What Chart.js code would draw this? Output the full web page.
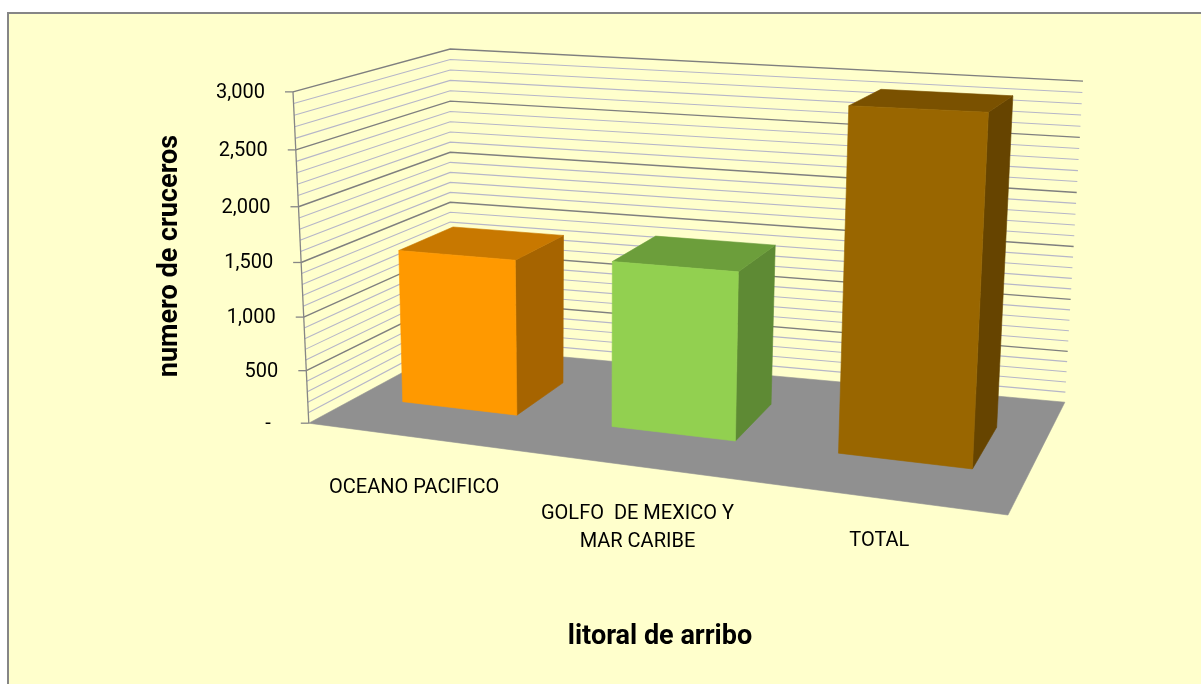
<!DOCTYPE html>
<html>
<head>
<meta charset="utf-8">
<script src="https://cdn.jsdelivr.net/npm/chart.js@4.4.0/dist/chart.umd.min.js"></script>
<style>
  html, body { margin: 0; padding: 0; background: #fff; }
  #wrap { width: 1201px; height: 684px; }
</style>
</head>
<body>
<div id="wrap"><canvas id="cruceroChart"></canvas></div>
<script>
const categories = [['OCEANO PACIFICO'], ['GOLFO  DE MEXICO Y', 'MAR CARIBE'], ['TOTAL']];
const cruceros = [1450, 1510, 2950];
const yTicks = [0, 500, 1000, 1500, 2000, 2500, 3000];
const yTickLabels = ['-  ', '500', '1,000', '1,500', '2,000', '2,500', '3,000'];
const minorStep = 100;

const frontColors = ['#FF9900', '#92D050', '#996600'];
const topColors = ['#C87800', '#6C9E3B', '#7A5100'];
const sideColors = ['#A66400', '#5E8A34', '#664400'];

// corners of the 3d box, as fractions of the chart area
// key = u (categories) v (value) w (depth), 0 = front / bottom / left
const corners = {
    '000': [0.020, 0.803], '010': [0.000, 0.092],
    '001': [0.199, 0.639], '011': [0.199, 0.000],
    '100': [0.905, 1.000], '110': [0.929, 0.159],
    '101': [0.977, 0.758], '111': [1.000, 0.069]
};
const barDepth = [0.35, 0.73];

function project(area, u, v, w) {
    u = 0.887 * u / (1 - 0.113 * u); // perspective, right side is closer
    v = 0.942 * v / (1 - 0.058 * v);
    let x = 0, y = 0;
    for (const key in corners) {
        const [a, b, c] = key.split('').map(Number);
        const f = (a ? u : 1 - u) * (b ? v : 1 - v) * (c ? w : 1 - w);
        x += f * corners[key][0];
        y += f * corners[key][1];
    }
    return [area.left + x * area.width, area.top + y * area.height];
}

function fillFace(ctx, pts, color) {
    ctx.beginPath();
    ctx.moveTo(pts[0][0], pts[0][1]);
    for (let i = 1; i < pts.length; i++) ctx.lineTo(pts[i][0], pts[i][1]);
    ctx.closePath();
    ctx.fillStyle = color;
    ctx.strokeStyle = color;
    ctx.lineWidth = 0.6;
    ctx.fill();
    ctx.stroke();
}

const scene3d = {
    id: 'scene3d',
    beforeDraw(chart) {
        const ctx = chart.ctx, w = chart.width, h = chart.height;
        ctx.save();
        ctx.fillStyle = '#fff';
        ctx.fillRect(0, 0, w, h);
        ctx.fillStyle = '#FFFFCC';
        ctx.fillRect(8, 13, w, h);
        ctx.strokeStyle = '#868686';
        ctx.lineWidth = 2;
        ctx.beginPath();
        ctx.moveTo(8, h + 2);
        ctx.lineTo(8, 13);
        ctx.lineTo(w + 2, 13);
        ctx.stroke();
        ctx.restore();
    },
    beforeDatasetsDraw(chart) {
        const ctx = chart.ctx, area = chart.chartArea, yScale = chart.scales.y;
        const vOf = val => (area.bottom - yScale.getPixelForValue(val)) / area.height;
        ctx.save();

        // floor
        fillFace(ctx, [project(area, 0, 0, 0), project(area, 1, 0, 0),
            project(area, 1, 0, 1), project(area, 0, 0, 1)], '#909090');

        // gridlines on side wall and back wall
        for (let val = minorStep; val <= yScale.max; val += minorStep) {
            const v = vOf(val);
            const a = project(area, 0, v, 0), b = project(area, 0, v, 1), c = project(area, 1, v, 1);
            const major = yTicks.includes(val);
            ctx.strokeStyle = major ? '#7F7F7F' : '#B6B6C8';
            ctx.lineWidth = major ? 1.4 : 1.1;
            ctx.beginPath();
            ctx.moveTo(a[0], a[1]);
            ctx.lineTo(b[0], b[1]);
            ctx.lineTo(c[0], c[1]);
            ctx.stroke();
        }

        // value axis line, tick marks and labels
        const bottom = project(area, 0, 0, 0), top = project(area, 0, 1, 0);
        ctx.strokeStyle = '#868686';
        ctx.lineWidth = 1.3;
        ctx.beginPath();
        ctx.moveTo(bottom[0], bottom[1]);
        ctx.lineTo(top[0], top[1]);
        ctx.stroke();
        ctx.font = '20px Roboto';
        ctx.fillStyle = '#000';
        ctx.textAlign = 'right';
        ctx.textBaseline = 'middle';
        yTicks.forEach((val, i) => {
            const p = project(area, 0, vOf(val), 0);
            ctx.beginPath();
            ctx.moveTo(p[0] - 8, p[1]);
            ctx.lineTo(p[0], p[1]);
            ctx.stroke();
            ctx.fillText(yTickLabels[i], p[0] - 28, p[1] + 1);
        });
        ctx.restore();
    },
    beforeDatasetDraw() {
        return false; // bars are drawn as 3d boxes below
    },
    afterDatasetsDraw(chart) {
        const ctx = chart.ctx, area = chart.chartArea;
        const meta = chart.getDatasetMeta(0);
        ctx.save();
        meta.data.forEach((bar, i) => {
            const u0 = (bar.x - bar.width / 2 - area.left) / area.width;
            const u1 = (bar.x + bar.width / 2 - area.left) / area.width;
            const v = (bar.base - bar.y) / area.height;
            const [w0, w1] = barDepth;
            const p = (u, vv, w) => project(area, u, vv, w);
            fillFace(ctx, [p(u1, 0, w0), p(u1, 0, w1), p(u1, v, w1), p(u1, v, w0)], sideColors[i]);
            fillFace(ctx, [p(u0, v, w0), p(u1, v, w0), p(u1, v, w1), p(u0, v, w1)], topColors[i]);
            fillFace(ctx, [p(u0, 0, w0), p(u1, 0, w0), p(u1, v, w0), p(u0, v, w0)], frontColors[i]);
        });
        ctx.restore();
    },
    afterDraw(chart) {
        const ctx = chart.ctx, area = chart.chartArea;
        const meta = chart.getDatasetMeta(0);
        ctx.save();
        ctx.fillStyle = '#000';

        // category labels, following the slanted front edge of the floor
        ctx.font = '20px Roboto';
        ctx.textAlign = 'center';
        ctx.textBaseline = 'top';
        const first = project(area, meta.data[0].x / area.width - area.left / area.width, 0, 0);
        meta.data.forEach((bar, i) => {
            const edge = project(area, (bar.x - area.left) / area.width, 0, 0);
            const topY = 478 + (edge[1] - first[1]) * 0.87;
            categories[i].forEach((line, j) => {
                ctx.fillText(line, edge[0], topY + j * 28);
            });
        });

        // axis titles
        ctx.font = 'bold 27px Roboto';
        ctx.textBaseline = 'middle';
        ctx.fillText('litoral de arribo', 660, 637);
        ctx.translate(170, 256);
        ctx.rotate(-Math.PI / 2);
        ctx.fillText('numero de cruceros', 0, 0);
        ctx.restore();
    }
};

new Chart(document.getElementById('cruceroChart'), {
    type: 'bar',
    data: {
        labels: categories,
        datasets: [{
            label: 'numero de cruceros',
            data: cruceros,
            backgroundColor: frontColors,
            barPercentage: 0.555,
            categoryPercentage: 1
        }]
    },
    options: {
        responsive: true,
        maintainAspectRatio: false,
        animation: false,
        layout: {
            padding: { left: 293, top: 49, right: 118, bottom: 169 }
        },
        scales: {
            x: { display: false },
            y: { display: false, min: 0, max: 3000 }
        },
        plugins: {
            legend: { display: false },
            tooltip: { enabled: false }
        }
    },
    plugins: [scene3d]
});
</script>
</body>
</html>
